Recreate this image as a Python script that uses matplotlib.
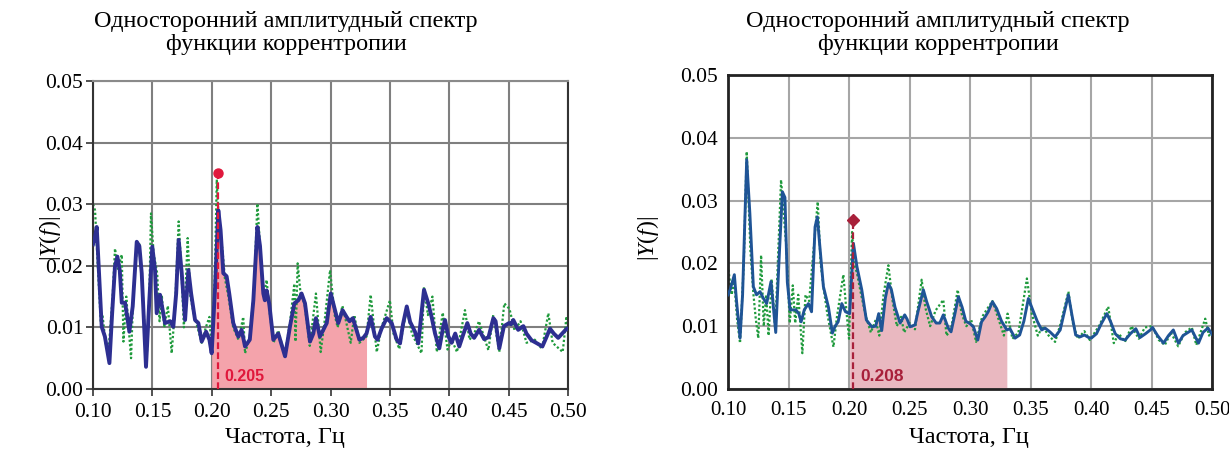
import numpy as np
import matplotlib
matplotlib.use("Agg")
import matplotlib.pyplot as plt

plt.rcParams['font.family'] = ['Liberation Serif', 'DejaVu Serif']
plt.rcParams['mathtext.fontset'] = 'custom'
plt.rcParams['mathtext.rm'] = 'Liberation Serif'
plt.rcParams['mathtext.it'] = 'Liberation Serif:italic'

title_text = "Односторонний амплитудный спектр\nфункции коррентропии"
xlabel_text = "Частота, Гц"
ylabel_text = r"$|Y(f)|$"
xticks = [0.10, 0.15, 0.20, 0.25, 0.30, 0.35, 0.40, 0.45, 0.50]
yticks = [0.00, 0.01, 0.02, 0.03, 0.04, 0.05]

# left panel, smoothed spectrum (blue)
left_blue_x = [0.100, 0.1017, 0.1031, 0.1050, 0.1073, 0.110, 0.1138, 0.1160, 0.1185, 0.1205,
               0.1225, 0.1242, 0.127, 0.1306, 0.1334, 0.1368, 0.139, 0.141, 0.1446, 0.1474,
               0.1499, 0.1522, 0.1536, 0.1564, 0.158, 0.1606, 0.165, 0.1676, 0.170, 0.1721,
               0.1747, 0.1775, 0.1803, 0.1826, 0.1859, 0.1887, 0.1915, 0.1952, 0.198, 0.1999,
               0.2027, 0.2055, 0.2074, 0.2097, 0.2125, 0.2147, 0.2181, 0.2223, 0.2251, 0.228,
               0.232, 0.235, 0.2384, 0.2406, 0.2434, 0.2447, 0.2462, 0.2484, 0.2518, 0.256,
               0.2617, 0.2658, 0.2695, 0.2729, 0.2756, 0.2785, 0.2827, 0.2855, 0.2877, 0.291,
               0.2968, 0.3002, 0.3037, 0.3065, 0.3101, 0.3135, 0.316, 0.3188, 0.3243, 0.3276,
               0.3303, 0.3338, 0.3374, 0.3396, 0.343, 0.3473, 0.3515, 0.3557, 0.3585, 0.361,
               0.3642, 0.367, 0.3711, 0.3739, 0.3787, 0.3823, 0.3851, 0.388, 0.3916, 0.395,
               0.3964, 0.3991, 0.4019, 0.405, 0.4084, 0.412, 0.4152, 0.418, 0.4209, 0.4251,
               0.4293, 0.433, 0.4371, 0.439, 0.4421, 0.446, 0.4503, 0.452, 0.4539, 0.458,
               0.4624, 0.465, 0.4693, 0.474, 0.4784, 0.482, 0.4848, 0.488, 0.4917, 0.4989,
               0.500]
left_blue_y = [0.0235, 0.0247, 0.0263, 0.0190, 0.0101, 0.0085, 0.0042, 0.0120, 0.0199, 0.0215,
               0.0193, 0.0140, 0.0140, 0.0093, 0.0134, 0.0239, 0.0232, 0.0188, 0.0036, 0.0144,
               0.0231, 0.0193, 0.0123, 0.0153, 0.0135, 0.0107, 0.0110, 0.0101, 0.0155, 0.0242,
               0.0188, 0.0112, 0.0193, 0.0155, 0.0112, 0.0107, 0.0077, 0.0093, 0.0080, 0.0058,
               0.0162, 0.0290, 0.0258, 0.0188, 0.0183, 0.0155, 0.0107, 0.0085, 0.0096, 0.0069,
               0.0080, 0.0144, 0.0263, 0.0232, 0.0155, 0.0144, 0.0160, 0.0138, 0.0080, 0.0090,
               0.0053, 0.0101, 0.0139, 0.0144, 0.0155, 0.0139, 0.0077, 0.0090, 0.0115, 0.0085,
               0.0107, 0.0155, 0.0128, 0.0107, 0.0128, 0.0117, 0.0110, 0.0115, 0.0080, 0.0083,
               0.0090, 0.0117, 0.0085, 0.0080, 0.0098, 0.0115, 0.0107, 0.0080, 0.0074, 0.0105,
               0.0134, 0.0109, 0.0093, 0.0074, 0.0161, 0.0139, 0.0117, 0.0090, 0.0066, 0.0102,
               0.0112, 0.0086, 0.0075, 0.0090, 0.0069, 0.0090, 0.0107, 0.0090, 0.0083, 0.0096,
               0.0081, 0.0084, 0.0115, 0.0110, 0.0066, 0.0102, 0.0107, 0.0105, 0.0112, 0.0096,
               0.0102, 0.0090, 0.0079, 0.0074, 0.0069, 0.0085, 0.0098, 0.0090, 0.0083, 0.0098,
               0.0098]

# left panel, raw spectrum (green dotted)
left_green_x = [0.100, 0.1017, 0.104, 0.1065, 0.108, 0.1105, 0.113, 0.1165, 0.1185, 0.121,
                0.1242, 0.1256, 0.128, 0.130, 0.132, 0.134, 0.137, 0.139, 0.1415, 0.145,
                0.1475, 0.1488, 0.151, 0.154, 0.156, 0.158, 0.160, 0.163, 0.1662, 0.169,
                0.1721, 0.1745, 0.1765, 0.1797, 0.182, 0.185, 0.188, 0.1915, 0.195, 0.198,
                0.200, 0.2025, 0.2042, 0.2065, 0.2089, 0.211, 0.214, 0.218, 0.2225, 0.2265,
                0.228, 0.232, 0.2355, 0.2384, 0.241, 0.2435, 0.2462, 0.249, 0.252, 0.256,
                0.2615, 0.266, 0.2695, 0.2705, 0.2723, 0.275, 0.278, 0.2825, 0.2877, 0.2917,
                0.295, 0.2996, 0.3035, 0.306, 0.310, 0.313, 0.317, 0.320, 0.3243, 0.3303,
                0.3338, 0.3389, 0.343, 0.350, 0.353, 0.3579, 0.3642, 0.3685, 0.3766, 0.3787,
                0.382, 0.3858, 0.3895, 0.3945, 0.3985, 0.402, 0.4065, 0.4132, 0.417, 0.421,
                0.425, 0.4329, 0.437, 0.4421, 0.4463, 0.4507, 0.455, 0.460, 0.465, 0.472,
                0.478, 0.4834, 0.487, 0.4955, 0.4987, 0.500]
left_green_y = [0.0300, 0.0290, 0.0200, 0.0110, 0.0120, 0.0075, 0.0060, 0.0150, 0.0228, 0.0195,
                0.0218, 0.0077, 0.0150, 0.0100, 0.0050, 0.0160, 0.0230, 0.0235, 0.0170, 0.0040,
                0.0160, 0.0285, 0.0220, 0.0188, 0.0110, 0.0150, 0.0100, 0.0135, 0.0058, 0.0130,
                0.0272, 0.0190, 0.0100, 0.0245, 0.0150, 0.0120, 0.0100, 0.0075, 0.0100, 0.0117,
                0.0060, 0.0180, 0.0340, 0.0250, 0.0228, 0.0180, 0.0150, 0.0100, 0.0080, 0.0117,
                0.0058, 0.0085, 0.0160, 0.0301, 0.0220, 0.0150, 0.0177, 0.0120, 0.0075, 0.0095,
                0.0055, 0.0110, 0.0171, 0.0077, 0.0204, 0.0150, 0.0140, 0.0070, 0.0155, 0.0060,
                0.0110, 0.0193, 0.0120, 0.0100, 0.0135, 0.0110, 0.0075, 0.0120, 0.0075, 0.0085,
                0.0153, 0.0060, 0.0100, 0.0144, 0.0090, 0.0065, 0.0130, 0.0090, 0.0058, 0.0166,
                0.0120, 0.0150, 0.0060, 0.0124, 0.0064, 0.0080, 0.0060, 0.0128, 0.0080, 0.0090,
                0.0110, 0.0063, 0.0120, 0.0060, 0.0139, 0.0130, 0.0095, 0.0110, 0.0075, 0.0080,
                0.0065, 0.0123, 0.0075, 0.0060, 0.0118, 0.0100]

# right panel, smoothed spectrum (blue)
right_blue_x = [0.100, 0.1017, 0.1052, 0.107, 0.1099, 0.112, 0.1154, 0.118, 0.1209, 0.1235,
                0.1264, 0.129, 0.1319, 0.1355, 0.1394, 0.142, 0.1449, 0.147, 0.149, 0.1513,
                0.156, 0.1585, 0.1604, 0.163, 0.1664, 0.169, 0.1719, 0.1738, 0.1755, 0.1788,
                0.183, 0.1862, 0.1885, 0.191, 0.194, 0.197, 0.2005, 0.2036, 0.2065, 0.2105,
                0.2143, 0.2188, 0.222, 0.2245, 0.227, 0.230, 0.2325, 0.235, 0.238, 0.2422,
                0.246, 0.248, 0.2504, 0.2545, 0.2572, 0.2614, 0.264, 0.2683, 0.272, 0.275,
                0.2779, 0.282, 0.2843, 0.2875, 0.2904, 0.2935, 0.2965, 0.300, 0.3028, 0.3064,
                0.3095, 0.3125, 0.315, 0.3185, 0.322, 0.326, 0.3304, 0.333, 0.3372, 0.341,
                0.3445, 0.3482, 0.352, 0.3555, 0.3592, 0.362, 0.366, 0.3703, 0.3745, 0.377,
                0.3813, 0.384, 0.3873, 0.391, 0.3945, 0.398, 0.4002, 0.4045, 0.4085, 0.4131,
                0.416, 0.420, 0.4242, 0.4282, 0.4325, 0.437, 0.4405, 0.445, 0.449, 0.4508,
                0.455, 0.4599, 0.464, 0.468, 0.4722, 0.476, 0.4833, 0.4888, 0.4925, 0.4966,
                0.500]
right_blue_y = [0.0150, 0.0158, 0.0182, 0.0140, 0.0081, 0.0150, 0.0365, 0.0280, 0.0163, 0.0150,
                0.0155, 0.0145, 0.0136, 0.0171, 0.0090, 0.0200, 0.0314, 0.0305, 0.0170, 0.0126,
                0.0126, 0.0120, 0.0107, 0.0126, 0.0136, 0.0123, 0.0258, 0.0274, 0.0235, 0.0163,
                0.0130, 0.0089, 0.0100, 0.0107, 0.0136, 0.0123, 0.0120, 0.0232, 0.0195, 0.0158,
                0.0110, 0.0099, 0.0100, 0.0120, 0.0093, 0.0145, 0.0168, 0.0158, 0.0130, 0.0105,
                0.0118, 0.0111, 0.0099, 0.0102, 0.0125, 0.0158, 0.0140, 0.0115, 0.0105, 0.0105,
                0.0118, 0.0097, 0.0091, 0.0120, 0.0147, 0.0130, 0.0108, 0.0104, 0.0099, 0.0078,
                0.0107, 0.0115, 0.0123, 0.0139, 0.0128, 0.0108, 0.0094, 0.0096, 0.0081, 0.0086,
                0.0108, 0.0144, 0.0125, 0.0108, 0.0094, 0.0097, 0.0091, 0.0083, 0.0094, 0.0115,
                0.0150, 0.0120, 0.0086, 0.0083, 0.0086, 0.0082, 0.0081, 0.0088, 0.0104, 0.0120,
                0.0108, 0.0088, 0.0080, 0.0078, 0.0088, 0.0096, 0.0082, 0.0088, 0.0094, 0.0098,
                0.0085, 0.0073, 0.0085, 0.0094, 0.0073, 0.0085, 0.0094, 0.0073, 0.0090, 0.0097,
                0.0087]

# right panel, raw spectrum (green dotted)
right_green_x = [0.1003, 0.103, 0.105, 0.1075, 0.1099, 0.113, 0.1154, 0.1185, 0.121, 0.123,
                 0.125, 0.1273, 0.1295, 0.1315, 0.1335, 0.136, 0.139, 0.1415, 0.1438, 0.148,
                 0.151, 0.1535, 0.1555, 0.158, 0.1614, 0.164, 0.167, 0.1741, 0.1765, 0.179,
                 0.182, 0.1871, 0.190, 0.1953, 0.198, 0.200, 0.2025, 0.204, 0.2065, 0.210,
                 0.214, 0.218, 0.222, 0.225, 0.2285, 0.2325, 0.236, 0.2395, 0.243, 0.2455,
                 0.250, 0.2545, 0.260, 0.263, 0.267, 0.2715, 0.2779, 0.2805, 0.2843, 0.2898,
                 0.293, 0.297, 0.301, 0.305, 0.310, 0.315, 0.3185, 0.322, 0.328, 0.331,
                 0.335, 0.340, 0.347, 0.351, 0.356, 0.360, 0.365, 0.3703, 0.375, 0.3813,
                 0.385, 0.389, 0.3945, 0.399, 0.4065, 0.4142, 0.4188, 0.423, 0.428, 0.4335,
                 0.4395, 0.4445, 0.4505, 0.456, 0.461, 0.466, 0.472, 0.4775, 0.4833, 0.487,
                 0.4944, 0.4975, 0.500]
right_green_y = [0.0190, 0.0150, 0.0175, 0.0110, 0.0073, 0.0200, 0.0378, 0.0220, 0.0150, 0.0110,
                 0.0081, 0.0213, 0.0100, 0.0150, 0.0085, 0.0175, 0.0095, 0.0220, 0.0333, 0.0230,
                 0.0105, 0.0165, 0.0105, 0.0150, 0.0057, 0.0150, 0.0140, 0.0298, 0.0200, 0.0160,
                 0.0120, 0.0067, 0.0115, 0.0182, 0.0120, 0.0080, 0.0250, 0.0200, 0.0185, 0.0150,
                 0.0115, 0.0090, 0.0110, 0.0085, 0.0150, 0.0197, 0.0140, 0.0100, 0.0115, 0.0090,
                 0.0105, 0.0095, 0.0174, 0.0130, 0.0100, 0.0125, 0.0142, 0.0085, 0.0095, 0.0158,
                 0.0120, 0.0100, 0.0110, 0.0075, 0.0115, 0.0130, 0.0140, 0.0120, 0.0085, 0.0120,
                 0.0080, 0.0090, 0.0176, 0.0120, 0.0085, 0.0100, 0.0085, 0.0075, 0.0105, 0.0155,
                 0.0105, 0.0080, 0.0092, 0.0078, 0.0100, 0.0131, 0.0073, 0.0088, 0.0075, 0.0100,
                 0.0080, 0.0098, 0.0100, 0.0078, 0.0070, 0.0090, 0.0068, 0.0090, 0.0098, 0.0070,
                 0.0112, 0.0085, 0.0092]

# marked peak and shaded band
left_peak = (0.2055, 0.035)
left_peak_label = "0.205"
left_band = (0.199, 0.331)
right_peak = (0.2036, 0.0269)
right_peak_label = "0.208"
right_band = (0.200, 0.332)


def draw_panel(ax, bx, by, gx, gy, peak, label, band, blue, fill, red, marker, right_style):
    bx = np.array(bx)
    by = np.array(by)
    ax.fill_between(bx, by, 0, where=(bx >= band[0]) & (bx <= band[1]),
                    color=fill, linewidth=0, zorder=1)
    ax.plot(gx, gy, color='#1f9a3c', linestyle=(0, (1, 1)), linewidth=1.6, zorder=2)
    ax.plot(bx, by, color=blue, linewidth=2.8 if not right_style else 2.1, zorder=3)
    ax.plot([peak[0], peak[0]], [0, peak[1]], color=red, linestyle=(0, (3, 1.5)),
            linewidth=1.6, zorder=4)
    ax.plot([peak[0]], [peak[1]], marker=marker, color=red, markersize=6.5, zorder=5)
    ax.text(peak[0] + 0.0055, 0.0013, label, color=red,
            fontsize=11.5 if not right_style else 12.5, fontweight='bold',
            family=['Liberation Sans', 'DejaVu Sans'], zorder=6)

    ax.set_xlim(0.10, 0.50)
    ax.set_ylim(0.0, 0.05)
    ax.set_xticks(xticks)
    ax.set_yticks(yticks)
    ax.set_xticklabels([f"{t:.2f}" for t in xticks])
    ax.set_yticklabels([f"{t:.2f}" for t in yticks])
    ax.tick_params(labelsize=15.5)
    if right_style:
        ax.grid(True, color='#a6a6a6', linewidth=1.5)
        ax.tick_params(length=0)
        ax.tick_params(axis='x', pad=9, labelsize=15)
        ax.tick_params(axis='y', pad=7)
        for s in ax.spines.values():
            s.set_color('#222222')
            s.set_linewidth(2.0)
    else:
        ax.grid(True, color='#7f7f7f', linewidth=1.5)
        ax.tick_params(length=5, width=1.2, direction='out', color='#333333')
        ax.tick_params(axis='x', pad=5)
        ax.tick_params(axis='y', pad=2)
        for name, s in ax.spines.items():
            s.set_linewidth(1.5)
            s.set_color('#8a8a8a' if name == 'top' else '#333333')
    ax.set_axisbelow(True)


fig = plt.figure(figsize=(12.29, 4.51), dpi=100)
ax1 = fig.add_axes([0.0757, 0.1375, 0.3865, 0.6829])
ax2 = fig.add_axes([0.5924, 0.1375, 0.3938, 0.6962])

draw_panel(ax1, left_blue_x, left_blue_y, left_green_x, left_green_y, left_peak,
           left_peak_label, left_band, '#2d2f91', '#f4a3ab', '#e0183c', 'o', False)
draw_panel(ax2, right_blue_x, right_blue_y, right_green_x, right_green_y, right_peak,
           right_peak_label, right_band, '#1f5496', '#e9b8c0', '#a8203a', 'D', True)

# titles and axis labels
for cx in [286 / 1229, 938 / 1229]:
    fig.text(cx, 1 - 33 / 451, title_text, ha='center', va='center', fontsize=17.5,
             linespacing=1.12)
for cx in [285 / 1229, 969 / 1229]:
    fig.text(cx, 1 - 437 / 451, xlabel_text, ha='center', va='center', fontsize=17.5)
for cx in [50 / 1229, 648 / 1229]:
    fig.text(cx, 1 - 238 / 451, ylabel_text, ha='center', va='center', fontsize=17,
             rotation=90)

fig.savefig("out.png", dpi=100)
